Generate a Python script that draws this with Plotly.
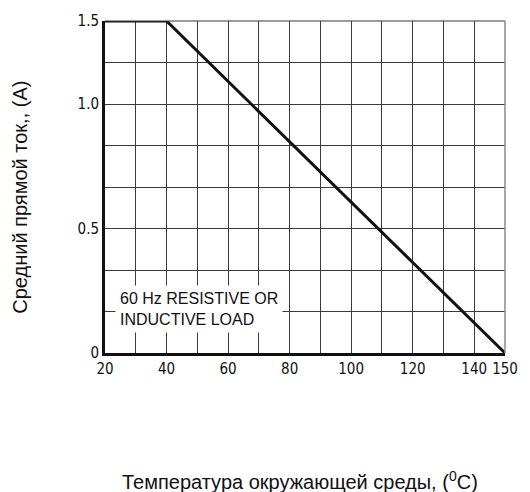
import plotly.graph_objects as go

# Data
temp = [20, 40, 150]
current = [1.5, 1.5, 0.0]
x_tickvals = [20, 40, 60, 80, 100, 120, 140, 150]
x_ticktext = ["20", "40", "60", "80", "100", "120", "140", "150"]
# y labels as printed on the original (non-uniform) grid of 8 divisions
y_tickvals = [0.0, 0.5625, 1.125, 1.5]
y_ticktext = ["0", "0.5", "1.0", "1.5"]
y_grid_step = 1.5 / 8

grid_color = "#3a3a3a"
tick_font = dict(family="Liberation Sans Narrow, Arial Narrow, DejaVu Sans Condensed, Liberation Sans, Arial",
                 size=15, color="#111")

fig = go.Figure()
fig.add_trace(go.Scatter(x=temp, y=current, mode="lines",
                         line=dict(color="#111", width=3), hoverinfo="skip",
                         showlegend=False))

fig.update_layout(
    width=530, height=492,
    margin=dict(l=105, r=16, t=19, b=139),
    paper_bgcolor="white", plot_bgcolor="white",
    xaxis=dict(range=[20, 150], tickmode="array", tickvals=x_tickvals, ticktext=x_ticktext,
               showgrid=True, gridcolor=grid_color, gridwidth=1,
               minor=dict(dtick=10, tick0=0, showgrid=True, gridcolor=grid_color, gridwidth=1),
               showline=True, linecolor="#111", linewidth=3,
               zeroline=False, ticks="", ticklen=0, tickfont=tick_font, fixedrange=True),
    yaxis=dict(range=[0, 1.5], tickmode="array", tickvals=y_tickvals, ticktext=y_ticktext,
               showgrid=True, gridcolor=grid_color, gridwidth=1,
               minor=dict(dtick=y_grid_step, tick0=0, showgrid=True, gridcolor=grid_color, gridwidth=1),
               showline=True, linecolor="#111", linewidth=3,
               zeroline=False, ticks="", ticklen=0, tickfont=tick_font, fixedrange=True),
    font=dict(family="Liberation Sans, Arial", color="#111"),
)

# frame top/right
fig.add_shape(type="line", xref="paper", yref="paper", x0=0, x1=1, y0=1, y1=1,
              line=dict(color=grid_color, width=1))
fig.add_shape(type="line", xref="paper", yref="paper", x0=1, x1=1, y0=0, y1=1,
              line=dict(color="#888", width=1.5))

fig.add_annotation(xref="paper", yref="paper", x=0.0244, y=0.132, xanchor="left", yanchor="middle",
                   text="60 Hz RESISTIVE OR<br>INDUCTIVE LOAD", showarrow=False, align="left",
                   bgcolor="white", borderpad=4, font=dict(size=16, color="#111"))

fig.add_annotation(xref="paper", yref="paper", x=0.487, y=-0.383, xanchor="center", yanchor="middle",
                   text="Температура окружающей среды, (<sup>0</sup>C)", showarrow=False,
                   font=dict(size=20, color="#111"))

fig.add_annotation(xref="paper", yref="paper", x=-0.213, y=0.47, xanchor="center", yanchor="middle",
                   text="Средний прямой ток,, (A)", textangle=-90, showarrow=False,
                   font=dict(size=20, color="#111"))

fig.write_html("out.html")
